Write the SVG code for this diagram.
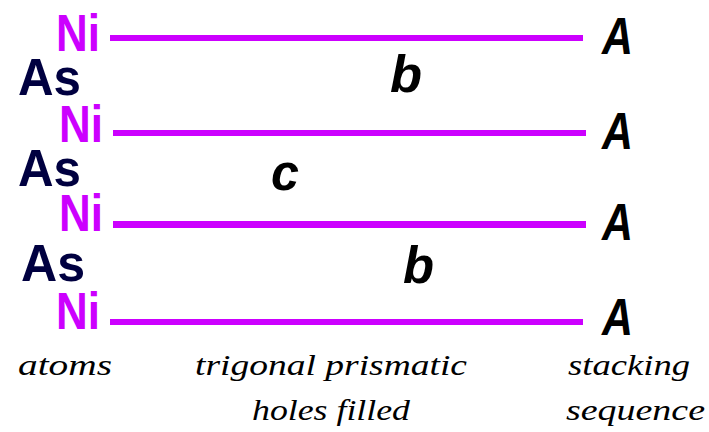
<svg xmlns="http://www.w3.org/2000/svg" width="709" height="432" viewBox="0 0 709 432">
<style>
.ni{font-family:"Liberation Sans",Arial,sans-serif;font-weight:bold;font-size:52px;fill:#CC00FF}
.as{font-family:"Liberation Sans",Arial,sans-serif;font-weight:bold;font-size:52px;fill:#000040}
.seq{font-family:"Liberation Sans",Arial,sans-serif;font-weight:bold;font-style:italic;font-size:52px;fill:#000}
.cap{font-family:"Liberation Serif","Times New Roman",serif;font-style:italic;font-size:30px;fill:#000}
.layer{fill:#CC00FF}
</style>
<rect width="709" height="432" fill="#fff"/>
<g id="layers">
<rect class="layer" x="110" y="35" width="473" height="6"/>
<rect class="layer" x="113" y="130" width="473" height="6"/>
<rect class="layer" x="113" y="221" width="473" height="7"/>
<rect class="layer" x="110" y="319" width="473" height="6"/>
</g>
<g id="ni1"><text class="ni" x="56" y="51" textLength="44" lengthAdjust="spacingAndGlyphs">Ni</text></g>
<g id="as1"><text class="as" x="18" y="95" textLength="63" lengthAdjust="spacingAndGlyphs">As</text></g>
<g id="ni2"><text class="ni" x="59" y="142" textLength="44" lengthAdjust="spacingAndGlyphs">Ni</text></g>
<g id="as2"><text class="as" x="18" y="186" textLength="63" lengthAdjust="spacingAndGlyphs">As</text></g>
<g id="ni3"><text class="ni" x="59" y="231" textLength="44" lengthAdjust="spacingAndGlyphs">Ni</text></g>
<g id="as3"><text class="as" x="21" y="281" textLength="64" lengthAdjust="spacingAndGlyphs">As</text></g>
<g id="ni4"><text class="ni" x="56" y="329" textLength="44" lengthAdjust="spacingAndGlyphs">Ni</text></g>
<g id="hole1"><text class="seq" x="390" y="92" textLength="32" lengthAdjust="spacingAndGlyphs">b</text></g>
<g id="hole2"><text class="seq" x="271" y="190" textLength="28" lengthAdjust="spacingAndGlyphs">c</text></g>
<g id="hole3"><text class="seq" x="403" y="283" textLength="31" lengthAdjust="spacingAndGlyphs">b</text></g>
<g id="stack1"><text class="seq" x="602" y="54" textLength="31" lengthAdjust="spacingAndGlyphs">A</text></g>
<g id="stack2"><text class="seq" x="602" y="149" textLength="31" lengthAdjust="spacingAndGlyphs">A</text></g>
<g id="stack3"><text class="seq" x="602" y="240" textLength="31" lengthAdjust="spacingAndGlyphs">A</text></g>
<g id="stack4"><text class="seq" x="602" y="335" textLength="31" lengthAdjust="spacingAndGlyphs">A</text></g>
<g id="captions">
<text class="cap" x="18" y="375" textLength="94" lengthAdjust="spacingAndGlyphs">atoms</text>
<text class="cap" x="195" y="375" textLength="272" lengthAdjust="spacingAndGlyphs">trigonal prismatic</text>
<text class="cap" x="252" y="420" textLength="158" lengthAdjust="spacingAndGlyphs">holes filled</text>
<text class="cap" x="568" y="375" textLength="122" lengthAdjust="spacingAndGlyphs">stacking</text>
<text class="cap" x="566" y="420" textLength="139" lengthAdjust="spacingAndGlyphs">sequence</text>
</g>
</svg>
